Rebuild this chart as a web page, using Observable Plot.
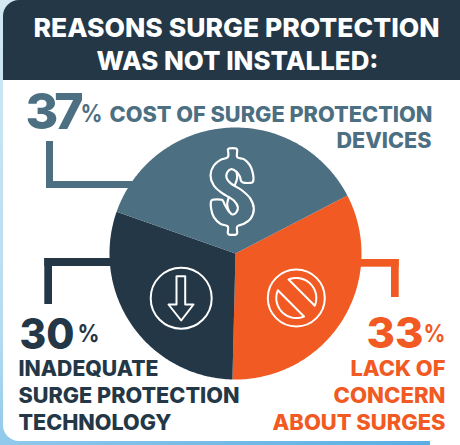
<!DOCTYPE html>
<html><head><meta charset="utf-8">
<script src="https://cdn.jsdelivr.net/npm/d3@7"></script>
<script src="https://cdn.jsdelivr.net/npm/@observablehq/plot@0.6"></script>
<style>
html,body{margin:0;padding:0;width:460px;height:445px;overflow:hidden;background:linear-gradient(160deg,#d2e9f3 0%,#b5dbf0 55%,#55ace3 100%)}
svg{display:block;background:transparent!important}
</style></head><body><script>
const categories = ["Lack of concern about surges","Inadequate surge protection technology","Cost of surge protection devices"];
const shares = [33,30,37];
const colors = ["#f15a22","#233746","#4d6f82"];
const titleLines = ["REASONS SURGE PROTECTION","WAS NOT INSTALLED:"];
const F = "Inter, sans-serif";
const blue=colors[2], dark=colors[1], orange=colors[0];

const center=[235,253], R=126, startDeg=62.6;
const arcs=d3.pie().sort(null).startAngle(startDeg*Math.PI/180).endAngle((startDeg+360)*Math.PI/180)(shares);
const pieRows=arcs.flatMap((a,i)=>{
  const pts=[{k:categories[i],x:center[0],y:center[1]}];
  const n=Math.ceil((a.endAngle-a.startAngle)*60);
  for(let j=0;j<=n;j++){const t=a.startAngle+(a.endAngle-a.startAngle)*j/n;
    pts.push({k:categories[i],x:center[0]+R*Math.sin(t),y:center[1]-R*Math.cos(t)});}
  return pts;
});
const leaders=[
 {x1:46,x2:53,y1:141,y2:188,c:blue},{x1:46,x2:135,y1:181,y2:188,c:blue},
 {x1:44.3,x2:52,y1:258,y2:304,c:dark},{x1:44.3,x2:115,y1:258,y2:266,c:dark},
 {x1:391,x2:398.7,y1:259,y2:297,c:orange},{x1:355,x2:398.7,y1:259,y2:266.7,c:orange}
];
const texts=[
 [titleLines[0],236,36.5,26,"#fff","middle",800,406],
 [titleLines[1],237,69,26,"#fff","middle",800,282],
 ["37",25,128,50,blue,"start",800,0,-4],
 ["%",80,121.5,24,blue,"start",700,22],
 ["COST OF SURGE PROTECTION",432,121,21,blue,"end",800,323],
 ["DEVICES",431,147,21,blue,"end",800,95],
 ["30",19,348,43,dark,"start",800,55],
 ["%",77,341.5,24,dark,"start",700,22],
 ["INADEQUATE",18,375,21,dark,"start",800,140],
 ["SURGE PROTECTION",18,402,21,dark,"start",800,221],
 ["TECHNOLOGY",18,429,21,dark,"start",800,153],
 ["33",423,347,43,orange,"end",800,57],
 ["%",445,341.5,24,orange,"end",700,22],
 ["LACK OF",445,375,21,orange,"end",800,95],
 ["CONCERN",445,402,21,orange,"end",800,112],
 ["ABOUT SURGES",445,429,21,orange,"end",800,173]
].map(([t,x,y,s,c,a,w,l,ls])=>({t,x,y,s,c,a,w,l,ls}));
const textMarks=texts.map(d=>Plot.text([d],{x:"x",y:"y",text:"t",fill:d.c,fontSize:d.s,fontWeight:d.w,fontFamily:F,textAnchor:d.a,lineAnchor:"bottom"}));

const arrow=[[176,275.7],[184.7,275.7],[184.7,304],[193,304],[180.7,320],[168,304],[176,304],[176,275.7]].map(([x,y])=>({x,y}));
const nc=[295.8,297.5], nr=20;
const seg=(a,b)=>{const o=[];for(let d=a;d<=b+0.01;d+=(b-a)/30){const t=d*Math.PI/180;o.push({x:nc[0]+nr*Math.cos(t),y:nc[1]+nr*Math.sin(t)});}o.push(o[0]);return o;};
const noA=seg(-112.7,22.7), noB=seg(67.3,202.7);

const z=([a,b])=>({x:200+a/3,y:140+b/3});
const dollar=[[82,28],[85,24],[107,24],[110,28],[110,50],[130,56],[148,74],[157,98],[158,122],[155,126],[127,126],[122,122],[118,108],[108,94],[92,86],[80,96],[78,112],[90,128],[125,150],[150,175],[160,205],[150,235],[130,250],[110,258],[110,278],[107,282],[85,282],[82,278],[82,258],[60,250],[40,230],[32,205],[32,182],[36,178],[64,178],[68,182],[74,195],[85,212],[96,222],[108,215],[112,200],[100,180],[65,158],[40,135],[30,105],[40,75],[60,58],[82,50],[82,28]].map(z);
const dollarU=[[108,94],[110,112],[103,134]].map(z);
const dollarL=[[85,170],[80,192],[85,212]].map(z);

const chart=Plot.plot({
 width:460,height:445,margin:0,
 x:{domain:[0,460],range:[0,460],axis:null},
 y:{domain:[0,445],range:[0,445],axis:null},
 color:{domain:categories,range:colors},
 marks:[
  Plot.rect([{}],{x1:()=>3,x2:()=>480,y1:()=>0,y2:()=>120,fill:dark,rx:16}),
  Plot.rect([{}],{x1:()=>3,x2:()=>480,y1:()=>80,y2:()=>441,fill:"#fff",rx:16}),
  Plot.rect([{}],{x1:()=>3,x2:()=>460,y1:()=>80,y2:()=>110,fill:"#fff"}),
  Plot.rect([{}],{x1:()=>430,x2:()=>460,y1:()=>400,y2:()=>445,fill:"#fff"}),
  Plot.rect(leaders,{x1:"x1",x2:"x2",y1:"y1",y2:"y2",fill:"c"}),
  Plot.line(pieRows,{x:"x",y:"y",z:"k",fill:"k",stroke:null,curve:"linear"}),
  Plot.line(dollar,{x:"x",y:"y",stroke:"#fff",strokeWidth:2.2,curve:"catmull-rom"}),
  Plot.line(dollarU,{x:"x",y:"y",stroke:"#fff",strokeWidth:2.2,curve:"catmull-rom"}),
  Plot.line(dollarL,{x:"x",y:"y",stroke:"#fff",strokeWidth:2.2,curve:"catmull-rom"}),
  Plot.dot([{}],{x:()=>180.7,y:()=>297.7,r:30.5,stroke:"#fff",strokeWidth:2}),
  Plot.line(arrow,{x:"x",y:"y",stroke:"#fff",strokeWidth:2,curve:"linear"}),
  Plot.dot([{}],{x:()=>295.8,y:()=>297.5,r:28.5,stroke:"#fff",strokeWidth:2}),
  Plot.line(noA,{x:"x",y:"y",stroke:"#fff",strokeWidth:2,curve:"linear"}),
  Plot.line(noB,{x:"x",y:"y",stroke:"#fff",strokeWidth:2,curve:"linear"}),
  ...textMarks
 ]
});
document.body.appendChild(chart);
chart.querySelectorAll("text").forEach((el,i)=>{
  const d=texts[i];
  if(d.l){el.setAttribute("textLength",d.l);el.setAttribute("lengthAdjust","spacingAndGlyphs");}
  if(d.ls){el.style.letterSpacing=d.ls+"px";}
});
</script></body></html>
